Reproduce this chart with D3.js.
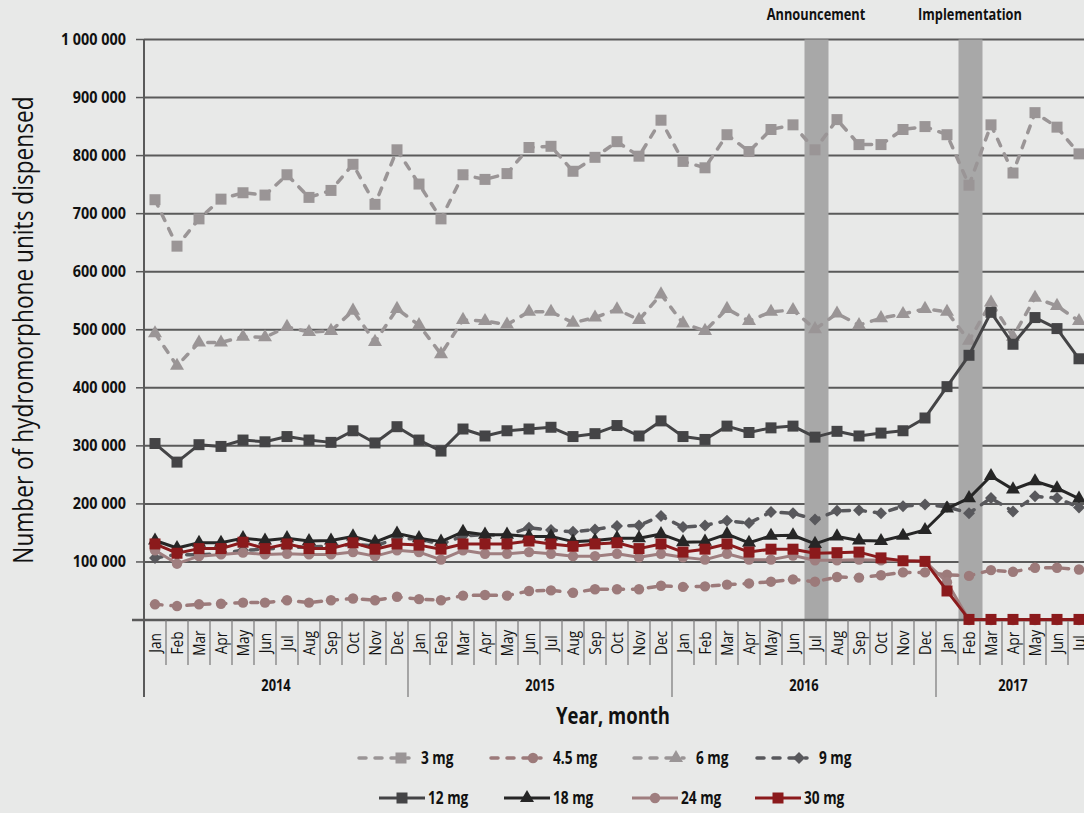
<!DOCTYPE html>
<html>
<head>
<meta charset="utf-8">
<script src="https://cdn.jsdelivr.net/npm/d3@7"></script>
<style>
  body { margin: 0; background: #e8e9e8; }
  svg { display: block; font-family: "Open Sans", "Noto Sans", sans-serif; }
</style>
</head>
<body>
<svg id="chart" width="1084" height="813"></svg>
<script>
// months and years on the x axis
const monthNames = ["Jan", "Feb", "Mar", "Apr", "May", "Jun", "Jul", "Aug", "Sep", "Oct", "Nov", "Dec"];
const years = ["2014", "2015", "2016", "2017"];
const monthsIn2017 = 7;
const months = [];
years.forEach(function (y) {
  let names = y === "2017" ? monthNames.slice(0, monthsIn2017) : monthNames;
  names.forEach(function (m) {
    months.push({ year: y, month: m });
  });
});

const yTicks = [100000, 200000, 300000, 400000, 500000, 600000, 700000, 800000, 900000, 1000000];

// series values, thousands of units, Jan 2014 - Jul 2017
const mg3 = [724, 644, 691, 725, 736, 732, 767, 728, 740, 785, 716, 810,
  751, 691, 767, 759, 769, 814, 816, 773, 797, 824, 799, 861,
  790, 779, 836, 807, 845, 853, 810, 862, 819, 819, 845, 850,
  836, 749, 853, 770, 874, 849, 803];
const mg45 = [27, 24, 27, 28, 30, 30, 34, 30, 34, 37, 34, 40,
  36, 34, 42, 43, 42, 50, 51, 47, 53, 53, 53, 59,
  57, 58, 61, 63, 66, 70, 66, 74, 73, 77, 82, 82,
  78, 76, 86, 83, 90, 90, 87];
const mg6 = [494, 438, 478, 478, 488, 487, 505, 496, 498, 533, 479, 536,
  508, 458, 517, 515, 509, 531, 531, 512, 521, 535, 517, 561,
  511, 498, 536, 515, 531, 534, 501, 528, 508, 520, 527, 536,
  531, 481, 547, 488, 555, 541, 515];
const mg9 = [107, 113, 112, 115, 120, 122, 125, 126, 127, 130, 128, 140,
  140, 130, 145, 147, 146, 159, 155, 152, 156, 162, 163, 179,
  160, 163, 171, 167, 186, 184, 173, 188, 189, 184, 196, 199,
  195, 184, 210, 187, 213, 210, 194];
const mg12 = [304, 272, 302, 299, 310, 307, 316, 310, 306, 326, 305, 333,
  310, 291, 329, 317, 326, 329, 332, 316, 321, 335, 317, 343,
  316, 311, 334, 323, 331, 334, 315, 325, 317, 322, 326, 348,
  402, 456, 530, 475, 521, 502, 450];
const mg18 = [137, 124, 133, 133, 141, 137, 141, 136, 137, 144, 134, 149,
  141, 135, 152, 147, 147, 144, 144, 135, 137, 141, 141, 148,
  134, 135, 148, 133, 145, 146, 131, 144, 137, 136, 145, 155,
  192, 210, 248, 225, 239, 227, 209];
const mg24 = [120, 97, 110, 113, 116, 113, 114, 113, 113, 117, 110, 120,
  117, 104, 120, 114, 114, 117, 114, 110, 110, 114, 108, 114,
  108, 104, 114, 104, 104, 111, 103, 103, 104, 103, 102, 101,
  65, 0, 0, 0, 0, 0, 0];
const mg30 = [131, 115, 123, 123, 134, 123, 131, 123, 123, 133, 122, 131,
  129, 122, 131, 131, 131, 136, 131, 127, 131, 133, 123, 131,
  117, 122, 131, 117, 122, 122, 115, 116, 117, 107, 102, 101,
  50, 1, 1, 1, 1, 1, 1];

// shaded months (index into months)
const events = [{ label: "Announcement", index: 30 }, { label: "Implementation", index: 37 }];

const series = [
  { name: "3 mg", values: mg3, color: "#9a9596", symbol: "square", dashed: true },
  { name: "4.5 mg", values: mg45, color: "#9c7a7a", symbol: "circle", dashed: true },
  { name: "6 mg", values: mg6, color: "#9a9596", symbol: "triangle", dashed: true },
  { name: "9 mg", values: mg9, color: "#58585c", symbol: "diamond", dashed: true },
  { name: "12 mg", values: mg12, color: "#444446", symbol: "square", dashed: false },
  { name: "18 mg", values: mg18, color: "#262626", symbol: "triangle", dashed: false },
  { name: "24 mg", values: mg24, color: "#9f7e7f", symbol: "circle", dashed: false },
  { name: "30 mg", values: mg30, color: "#8b1a1c", symbol: "square", dashed: false }
];

// the original uses a condensed face; squeeze text horizontally
const squeeze = 0.8;

let svg = d3.select("#chart");

const plotLeft = 144;
const bandW = 22;
const x = d3.scaleBand()
  .domain(months.map((d, i) => i))
  .range([plotLeft, plotLeft + bandW * months.length])
  .padding(0);
const y = d3.scaleLinear().domain([0, 1000000]).range([620, 39.5]);

const fmt = d3.formatLocale({ decimal: ".", thousands: " ", grouping: [3] }).format(",");

// text helper: place at (tx, ty), optional rotation, squeezed
function addText(parent, tx, ty, str, opts) {
  let rot = opts.rotate ? ` rotate(${opts.rotate})` : "";
  return parent.append("text")
    .attr("transform", `translate(${tx},${ty})${rot} scale(${opts.sx || squeeze},1)`)
    .attr("text-anchor", opts.anchor || "middle")
    .attr("font-size", opts.size)
    .attr("font-weight", opts.bold ? "bold" : "normal")
    .attr("fill", "#111")
    .text(str);
}

// gridlines
svg.append("g")
  .selectAll("line")
  .data(yTicks)
  .join("line")
  .attr("x1", plotLeft)
  .attr("x2", 1084)
  .attr("y1", d => y(d))
  .attr("y2", d => y(d))
  .attr("stroke", "#5a5a5a")
  .attr("stroke-width", 2);

// event bands
svg.append("g")
  .selectAll("rect")
  .data(events)
  .join("rect")
  .attr("x", d => x(d.index) + 0.5)
  .attr("width", bandW + 2)
  .attr("y", y(1000000))
  .attr("height", y(0) - y(1000000))
  .attr("fill", "#a8a8a8");

events.forEach(function (e) {
  addText(svg, x(e.index) + bandW / 2 + 1, 20, e.label, { size: 16, bold: true, sx: 0.8 });
});

// y axis ticks
yTicks.forEach(function (t) {
  svg.append("line")
    .attr("x1", plotLeft - 8).attr("x2", plotLeft)
    .attr("y1", y(t)).attr("y2", y(t))
    .attr("stroke", "#5a5a5a").attr("stroke-width", 1.5);
  addText(svg, 126, y(t) + 5.5, fmt(t), { size: 16, bold: true, anchor: "end", sx: 0.9 });
});

svg.append("line")
  .attr("x1", plotLeft).attr("x2", plotLeft)
  .attr("y1", y(1000000)).attr("y2", 697)
  .attr("stroke", "#5a5a5a").attr("stroke-width", 2);

addText(svg, 33, 330, "Number of hydromorphone units dispensed", { size: 27, rotate: -90, sx: 0.84 });

// x axis
svg.append("line")
  .attr("x1", plotLeft - 12).attr("x2", 1084)
  .attr("y1", y(0)).attr("y2", y(0))
  .attr("stroke", "#5a5a5a").attr("stroke-width", 2.5);

let xAxis = svg.append("g");
xAxis.selectAll("line.month")
  .data(months.slice(1))
  .join("line")
  .attr("class", "month")
  .attr("x1", (d, i) => x(i + 1))
  .attr("x2", (d, i) => x(i + 1))
  .attr("y1", y(0))
  .attr("y2", d => d.month === "Jan" ? 697 : 665)
  .attr("stroke", "#777")
  .attr("stroke-width", 1.2);

months.forEach(function (m, i) {
  addText(xAxis, x(i) + bandW / 2 + 5.5, 643, m.month, { size: 16, rotate: -90, sx: 0.85 });
});

years.forEach(function (yr) {
  let idx = months.map((m, i) => i).filter(i => months[i].year === yr);
  let cx = (x(idx[0]) + x(idx[idx.length - 1]) + bandW) / 2;
  addText(xAxis, cx, 691, yr, { size: 16.5, bold: true, sx: 0.78 });
});

addText(svg, 613, 724, "Year, month", { size: 24, bold: true, sx: 0.77 });

// symbols
function symbolPath(kind) {
  if (kind === "square") return d3.symbol(d3.symbolSquare, 121)();
  if (kind === "circle") return d3.symbol(d3.symbolCircle, 85)();
  if (kind === "triangle") return d3.symbol(d3.symbolTriangle, 85)();
  return d3.symbol(d3.symbolSquare, 72)();
}
function symbolRotate(kind) {
  return kind === "diamond" ? " rotate(45)" : "";
}

const line = d3.line()
  .x((d, i) => x(i) + bandW / 2)
  .y(d => y(d * 1000));

series.forEach(function (s) {
  let g = svg.append("g");
  g.append("path")
    .attr("d", line(s.values))
    .attr("fill", "none")
    .attr("stroke", s.color)
    .attr("stroke-width", s.dashed ? 3.5 : 3)
    .attr("stroke-dasharray", s.dashed ? "7,9" : null)
    .attr("stroke-linecap", s.dashed ? "round" : "butt")
    .attr("stroke-linejoin", "round");
  g.selectAll("path.pt")
    .data(s.values)
    .join("path")
    .attr("class", "pt")
    .attr("d", symbolPath(s.symbol))
    .attr("transform", (d, i) => `translate(${x(i) + bandW / 2},${y(d * 1000)})` + symbolRotate(s.symbol))
    .attr("fill", s.color);
});

// legend
const legendRows = [
  { y: 758, items: series.slice(0, 4), x0: [359, 491, 634, 757] },
  { y: 798, items: series.slice(4), x0: [379, 504, 632, 755] }
];
legendRows.forEach(function (row) {
  row.items.forEach(function (s, k) {
    let x0 = row.x0[k];
    let len = s.dashed ? 50 : 46;
    let mx = s.dashed ? x0 + 42 : x0 + 23;
    let tx = s.dashed ? x0 + 62 : x0 + 49;
    let g = svg.append("g");
    g.append("line")
      .attr("x1", x0).attr("x2", x0 + len)
      .attr("y1", row.y).attr("y2", row.y)
      .attr("stroke", s.color)
      .attr("stroke-width", s.dashed ? 3.5 : 3)
      .attr("stroke-dasharray", s.dashed ? "7,9" : null)
      .attr("stroke-linecap", s.dashed ? "round" : "butt");
    g.append("path")
      .attr("d", symbolPath(s.symbol))
      .attr("transform", `translate(${mx},${row.y})` + symbolRotate(s.symbol))
      .attr("fill", s.color);
    addText(g, tx, row.y + 6, s.name, { size: 18, bold: true, anchor: "start", sx: 0.76 });
  });
});
</script>
</body>
</html>
